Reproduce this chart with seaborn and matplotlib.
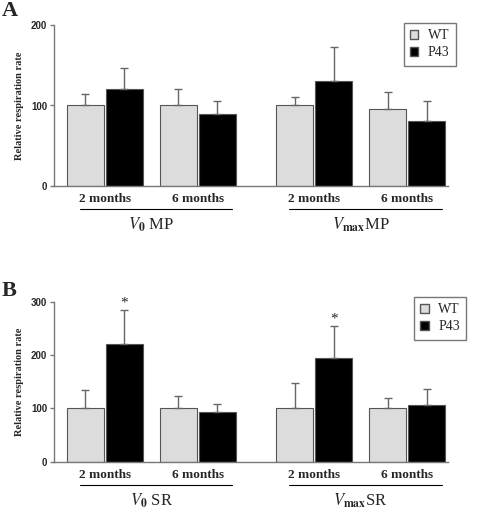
import numpy as np
import pandas as pd
import seaborn as sns
import matplotlib.pyplot as plt
import matplotlib.transforms as mtransforms
from matplotlib.patches import Patch

# dati
positions = [0, 1, 2.25, 3.25]
age_labels = ['2 months', '6 months', '2 months', '6 months']
genotypes = ['WT', 'P43']

mp_wt = [100, 100, 100, 96]
mp_p43 = [120, 89, 130, 81]
mp_wt_err = [14, 20, 11, 21]
mp_p43_err = [26, 17, 43, 24]

sr_wt = [101, 101, 101, 101]
sr_p43 = [220, 94, 195, 107]
sr_wt_err = [33, 22, 47, 18]
sr_p43_err = [64, 14, 59, 30]

sr_signif = [True, False, True, False]

group_labels_mp = [r'$V_{\mathbf{0}}$ MP', r'$V_{\mathbf{max}}$MP']
group_labels_sr = [r'$V_{\mathbf{0}}$ SR', r'$V_{\mathbf{max}}$SR']

sns.set_style('white')
plt.rcParams['font.family'] = ['Liberation Serif', 'DejaVu Serif']
plt.rcParams['mathtext.fontset'] = 'stix'

colors = {'WT': '#dcdcdc', 'P43': '#000000'}


def pannello(ax, wt, p43, wt_err, p43_err, ymax, step, groups, leg_anchor, stars=None):
    df = pd.DataFrame({
        'pos': positions * 2,
        'val': wt + p43,
        'gen': ['WT'] * 4 + ['P43'] * 4,
    })
    sns.barplot(data=df, x='pos', y='val', hue='gen', hue_order=genotypes,
                palette=colors, native_scale=True, width=0.839, gap=0.05,
                errorbar=None, edgecolor='#555555', linewidth=0.8,
                legend=False, ax=ax)

    # barre di errore (solo verso l'alto) posizionate sui rettangoli
    bars = [p for p in ax.patches][:8]
    errs = wt_err + p43_err
    vals = wt + p43
    for b, e, v in zip(bars, errs, vals):
        xc = b.get_x() + b.get_width() / 2
        ax.errorbar(xc, v, yerr=[[0], [e]], fmt='none', ecolor='#666666',
                    elinewidth=1, capsize=3, capthick=1, zorder=1)
    if stars is not None:
        for b, e, v, s in zip(bars[4:], p43_err, p43, stars):
            if s:
                xc = b.get_x() + b.get_width() / 2
                ax.text(xc, v + e + ymax * 0.005, '*', ha='center', va='bottom',
                        fontsize=11)

    ax.set_xlim(-0.548, 3.688)
    ax.set_ylim(0, ymax)
    ax.set_yticks(np.arange(0, ymax + 1, step))
    ax.set_yticklabels([str(t) for t in np.arange(0, ymax + 1, step)],
                       fontsize=7, fontweight='bold', family='Liberation Sans')
    ax.tick_params(axis='y', length=3, width=1, color='#777777', pad=2, left=True)
    ax.set_xticks(positions)
    ax.set_xticklabels(age_labels, fontsize=9.5, fontweight='bold')
    ax.tick_params(axis='x', length=0, pad=5)
    ax.set_xlabel('')
    ax.set_ylabel('Relative respiration rate', fontsize=7.5, fontweight='bold',
                  labelpad=5)
    for side in ['top', 'right']:
        ax.spines[side].set_visible(False)
    for side in ['left', 'bottom']:
        ax.spines[side].set_color('#777777')
        ax.spines[side].set_linewidth(1)

    # linee e etichette dei gruppi
    trans = mtransforms.blended_transform_factory(ax.transData, ax.transAxes)
    for i, g in enumerate(groups):
        x0 = positions[2 * i] - 0.27
        x1 = positions[2 * i + 1] + 0.37
        ax.plot([x0, x1], [-0.145, -0.145], color='black', lw=0.8,
                transform=trans, clip_on=False)
        ax.text((positions[2 * i] + positions[2 * i + 1]) / 2, -0.185, g,
                transform=trans, ha='center', va='top', fontsize=12)

    handles = [Patch(facecolor=colors[g], edgecolor='#555555', label=g)
               for g in genotypes]
    leg = ax.legend(handles=handles, loc='upper right',
                    bbox_to_anchor=leg_anchor, fontsize=10,
                    handlelength=0.6, handleheight=0.6, handletextpad=0.7,
                    borderpad=0.45, labelspacing=0.3, fancybox=False,
                    frameon=True, borderaxespad=0)
    leg.get_frame().set_edgecolor('#555555')
    leg.get_frame().set_linewidth(1)


fig = plt.figure(figsize=(4.81, 5.15), dpi=100)
ax_a = fig.add_axes([54 / 481, 1 - 186 / 515, 394 / 481, 161 / 515])
ax_b = fig.add_axes([54 / 481, 1 - 461.7 / 515, 394 / 481, 160 / 515])

pannello(ax_a, mp_wt, mp_p43, mp_wt_err, mp_p43_err, 200, 100,
         group_labels_mp, (1.02, 1.012))
pannello(ax_b, sr_wt, sr_p43, sr_wt_err, sr_p43_err, 300, 100,
         group_labels_sr, (1.046, 1.03), stars=sr_signif)

fig.text(2 / 481, 1 - 1 / 515, 'A', fontsize=16, fontweight='bold',
         ha='left', va='top')
fig.text(2 / 481, 1 - 281 / 515, 'B', fontsize=16, fontweight='bold',
         ha='left', va='top')

fig.savefig('out.png', dpi=100)
